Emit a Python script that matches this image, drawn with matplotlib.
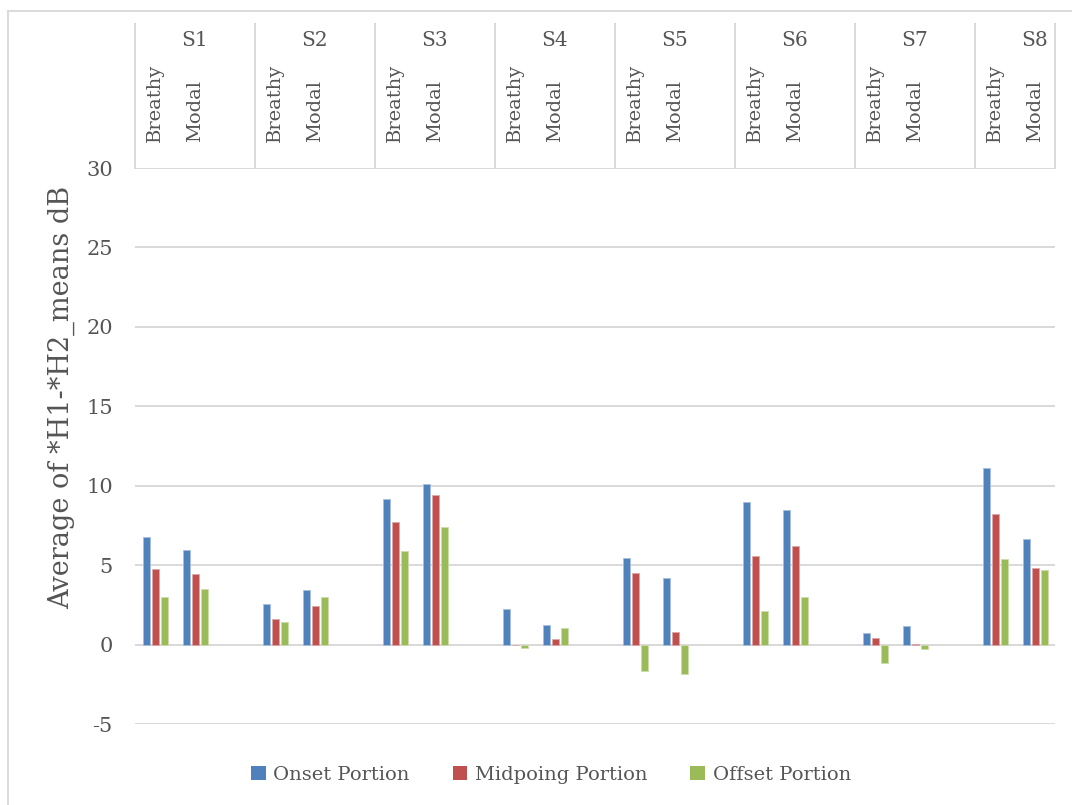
import numpy as np
import matplotlib
matplotlib.use("Agg")
import matplotlib.pyplot as plt
from matplotlib.patches import Patch
from matplotlib.lines import Line2D
from matplotlib.transforms import blended_transform_factory

subjects = ["S1", "S2", "S3", "S4", "S5", "S6", "S7", "S8"]
phonations = ["Breathy", "Modal"]
series_names = ["Onset Portion", "Midpoing Portion", "Offset Portion"]

# values ordered S1 Breathy, S1 Modal, S2 Breathy, ...
onset = [6.77, 5.93, 2.56, 3.44, 9.18, 10.13, 2.24, 1.24,
         5.44, 4.20, 8.95, 8.45, 0.70, 1.18, 11.10, 6.66]
midpoint = [4.78, 4.47, 1.64, 2.45, 7.74, 9.43, -0.03, 0.33,
            4.50, 0.77, 5.60, 6.22, 0.42, 0.02, 8.22, 4.80]
offset = [3.00, 3.52, 1.45, 2.98, 5.87, 7.42, -0.20, 1.03,
          -1.65, -1.86, 2.10, 2.98, -1.15, -0.28, 5.37, 4.70]

y_ticks = [-5, 0, 5, 10, 15, 20, 25, 30]

colors = ["#4F81BD", "#C0504D", "#9BBB59"]
edge_colors = ["#A7C0DE", "#DFA8A6", "#CDDDAC"]
text_color = "#555555"
grid_color = "#D9D9D9"
font = "DejaVu Serif"

W, H = 1072, 805
fig = plt.figure(figsize=(W / 100, H / 100), dpi=100)

# plot area in pixel coordinates
left_px, right_px, top_px, bottom_px = 135, 1055, 168, 724
ax = fig.add_axes([left_px / W, 1 - bottom_px / H,
                   (right_px - left_px) / W, (bottom_px - top_px) / H])

n_groups = len(subjects)
n_slots = n_groups * 3 - 1
slot_x = np.array([3 * g + p for g in range(n_groups) for p in range(len(phonations))])

step = 0.225
bar_w = 0.175
for k, (vals, c, ec) in enumerate(zip([onset, midpoint, offset], colors, edge_colors)):
    ax.bar(slot_x + (k - 1) * step, vals, width=bar_w, color=c,
           edgecolor=ec, linewidth=0.6, zorder=3)

ax.set_xlim(-0.5, n_slots - 0.5)
ax.set_ylim(-5, 30)
ax.set_yticks(y_ticks)
ax.set_yticklabels([str(t) for t in y_ticks], fontsize=15, color=text_color,
                   family=font)
ax.tick_params(axis="y", length=0, pad=16)
ax.set_xticks([])
for s in ax.spines.values():
    s.set_visible(False)
ax.yaxis.grid(True, color=grid_color, linewidth=1.4, zorder=0)
ax.set_axisbelow(True)

# category header above the plot
tr = blended_transform_factory(ax.transData, ax.transAxes)
plot_h = bottom_px - top_px
hdr_top = (bottom_px - 24) / plot_h
for g in range(n_groups):
    xd = 3 * g - 0.5
    ax.add_line(Line2D([xd, xd], [1.0, hdr_top], transform=tr, color=grid_color,
                       linewidth=1.4, clip_on=False))
ax.add_line(Line2D([n_slots - 0.5, n_slots - 0.5], [1.0, hdr_top], transform=tr,
                   color=grid_color, linewidth=1.4, clip_on=False))

s_y = (bottom_px - 41) / plot_h
p_y = (bottom_px - 142) / plot_h
for g, name in enumerate(subjects):
    ax.text(3 * g + 1, s_y, name, transform=tr, ha="center", va="center",
            fontsize=14.5, color=text_color, family=font)
    for p, ph in enumerate(phonations):
        ax.text(3 * g + p, p_y, ph, transform=tr, rotation=90,
                rotation_mode="anchor", ha="left", va="center",
                fontsize=14, color=text_color, family=font)

# y axis title
fig.text(61 / W, 1 - 397 / H, "Average of *H1-*H2_means dB", rotation=90,
         ha="center", va="center", fontsize=19.5, color=text_color, family=font)

# outer chart border (left and top edges)
fig.add_artist(Line2D([8 / W, 8 / W], [0, 1 - 11 / H], transform=fig.transFigure,
                      color=grid_color, linewidth=1.4))
fig.add_artist(Line2D([8 / W, 1], [1 - 11 / H, 1 - 11 / H], transform=fig.transFigure,
                      color=grid_color, linewidth=1.4))

handles = [Patch(facecolor=c, edgecolor="none") for c in colors]
fig.legend(handles, series_names, loc="center", bbox_to_anchor=(551 / W, 1 - 775 / H),
           ncol=3, frameon=False, handlelength=0.75, handleheight=0.75,
           handletextpad=0.4, columnspacing=2.2,
           prop={"family": font, "size": 14}, labelcolor=text_color)

fig.savefig("out.png", dpi=100)
